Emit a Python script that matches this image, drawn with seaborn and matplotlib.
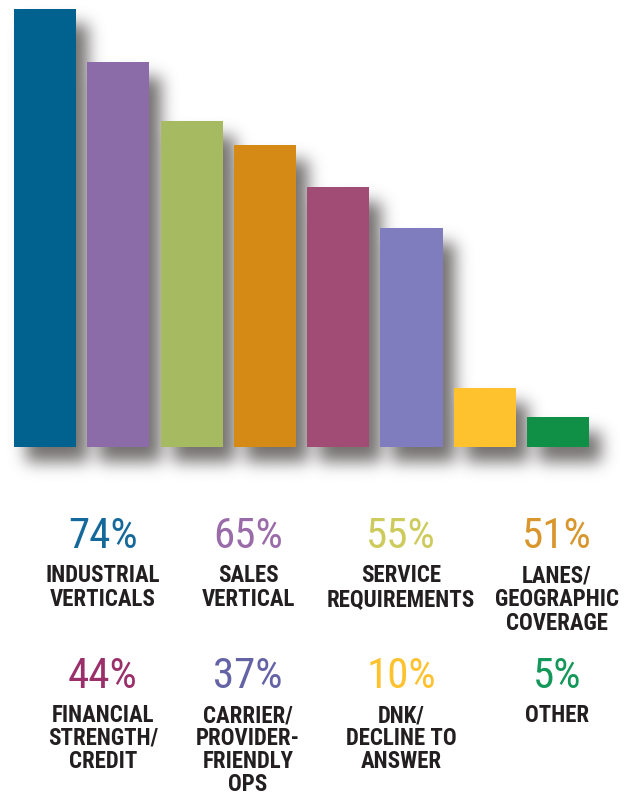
import numpy as np
import pandas as pd
import matplotlib
matplotlib.use("Agg")
import matplotlib.pyplot as plt
from matplotlib import font_manager as fm
from matplotlib.patches import Rectangle
from matplotlib.collections import PatchCollection
import seaborn as sns

# Survey answers, share of respondents (%)
categories = [
    "INDUSTRIAL\nVERTICALS",
    "SALES\nVERTICAL",
    "SERVICE\nREQUIREMENTS",
    "LANES/\nGEOGRAPHIC\nCOVERAGE",
    "FINANCIAL\nSTRENGTH/\nCREDIT",
    "CARRIER/\nPROVIDER-\nFRIENDLY\nOPS",
    "DNK/\nDECLINE TO\nANSWER",
    "OTHER",
]
values = [74, 65, 55, 51, 44, 37, 10, 5]
bar_colors = ["#02628F", "#8B6CA8", "#A6BA62", "#D68A16",
              "#A04C74", "#7F7DBE", "#FDC22E", "#109046"]
pct_colors = ["#15699A", "#9A6BA9", "#CDCB5C", "#D8962C",
              "#9A2F6A", "#6463A6", "#FDC22E", "#14985A"]

W, H, DPI = 626, 797, 100

sns.set_theme(style="white")
plt.rcParams["font.family"] = ["DejaVu Sans"]


def condensed_font(bold):
    """Return FontProperties for the narrowest installed sans face."""
    prefs = ["Liberation Sans Narrow", "Roboto Condensed", "Open Sans Condensed",
             "Noto Sans Condensed", "Noto Sans", "Open Sans", "DejaVu Sans"]
    best, best_score = None, None
    for f in fm.fontManager.ttflist:
        tag = (f.name + " " + f.fname).lower()
        st = f.stretch
        cond = ("condensed" in tag or "narrow" in tag
                or (isinstance(st, str) and ("condensed" in st or "narrow" in st))
                or (isinstance(st, (int, float)) and st < 500))
        if not cond or f.style != "normal":
            continue
        if "semi" in tag:
            semi = 1
        elif "extra" in tag or "ultra" in tag:
            semi = 2
        else:
            semi = 0
        w = f.weight if isinstance(f.weight, (int, float)) else \
            {"bold": 700, "normal": 400, "regular": 400}.get(str(f.weight), 400)
        target = 700 if bold else 400
        fam_rank = next((i for i, p in enumerate(prefs) if f.name.startswith(p)),
                        len(prefs))
        score = (abs(w - target), semi, fam_rank)
        if best_score is None or score < best_score:
            best, best_score = f, score
    if best is None:
        return fm.FontProperties(family="DejaVu Sans",
                                 weight="bold" if bold else "normal"), False
    return fm.FontProperties(fname=best.fname), True


lbl_font, lbl_cond = condensed_font(True)
pct_font, pct_cond = condensed_font(False)

fig = plt.figure(figsize=(W / DPI, H / DPI), dpi=DPI)
ax = fig.add_axes([0, 0, 1, 1])

df = pd.DataFrame({"cat": categories, "val": values})
sns.barplot(data=df, x="cat", y="val", hue="cat", palette=bar_colors,
            width=0.846, saturation=1, legend=False, ax=ax, zorder=3,
            linewidth=0, edgecolor="none")

# Map figure pixels onto data: bar pitch ~73.3 px, 5.92 px per percentage point
pitch, first_c, base_px, unit = 73.3, 45.0, 447.0, 5.92
ax.set_xlim((0 - first_c) / pitch, (W - first_c) / pitch)
ax.set_ylim(-(H - base_px) / unit, base_px / unit)
ax.axis("off")


class BlurredShadow:
    """agg_filter: offset, Gaussian-blurred silhouette of an artist."""

    def __init__(self, sigma, dx, dy, rgb, alpha):
        self.sigma, self.dx, self.dy = sigma, dx, dy
        self.rgb, self.alpha = rgb, alpha

    def __call__(self, im, dpi):
        pad = int(3 * self.sigma) + max(self.dx, self.dy) + 2
        src = np.pad(im, ((pad, pad), (pad, pad), (0, 0)))
        a = src[..., 3].astype(float)
        r = int(3 * self.sigma)
        t = np.arange(-r, r + 1)
        k = np.exp(-0.5 * (t / self.sigma) ** 2)
        k /= k.sum()
        a = np.apply_along_axis(lambda v: np.convolve(v, k, mode="same"), 0, a)
        a = np.apply_along_axis(lambda v: np.convolve(v, k, mode="same"), 1, a)
        out = np.zeros_like(src)
        out[..., :3] = self.rgb
        out[..., 3] = np.clip(a * self.alpha, 0, 1)
        return out, -pad + self.dx, -pad - self.dy


# Soft drop shadow under all bars, built from the drawn bar geometry
shadow_rects = [Rectangle(p.get_xy(), p.get_width(), p.get_height())
                for p in ax.patches]
shadow = PatchCollection(shadow_rects, facecolor="#5e5858", edgecolor="none",
                         zorder=1)
shadow.set_agg_filter(BlurredShadow(sigma=8, dx=12, dy=15,
                                    rgb=(0.36, 0.34, 0.34), alpha=0.85))
ax.add_collection(shadow)

# Value and label grid below the bars (two rows of four)
col_x = [103, 248, 401, 557]
row_pct_base = [548, 688]
row_lbl_base = [582, 722]
row_step = [24, 23]
pct_size = 31 if pct_cond else 26
lbl_size = 16.5 if lbl_cond else 12.5

for i, (cat, val) in enumerate(zip(categories, values)):
    r, c = divmod(i, 4)
    x = col_x[c] / W
    fig.text(x, 1 - row_pct_base[r] / H, f"{val}%", ha="center",
             va="baseline", fontproperties=pct_font, fontsize=pct_size,
             color=pct_colors[i])
    for j, line in enumerate(cat.split("\n")):
        y = row_lbl_base[r] + j * row_step[r]
        fig.text(x, 1 - y / H, line, ha="center", va="baseline",
                 fontproperties=lbl_font, fontsize=lbl_size,
                 color="#231F20")

fig.savefig("out.png", dpi=DPI)
